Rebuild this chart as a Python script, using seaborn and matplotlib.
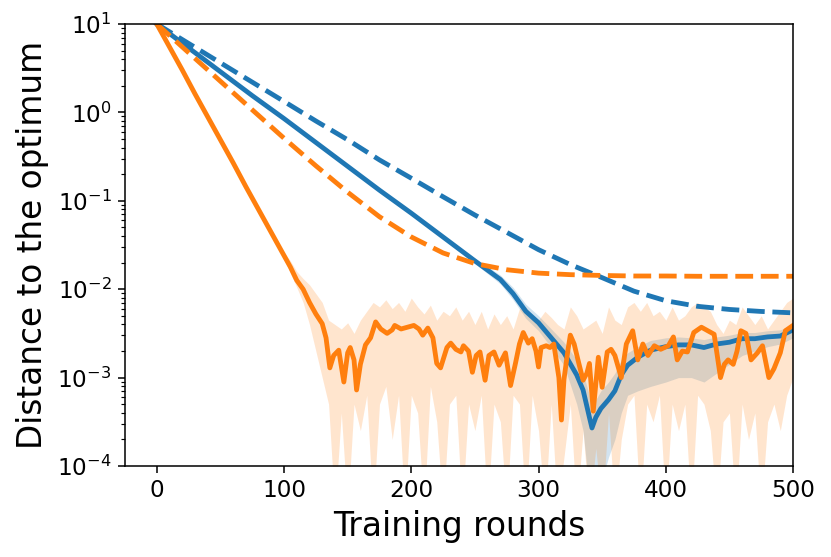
import numpy as np
import pandas as pd
import matplotlib
matplotlib.use("Agg")
import matplotlib.pyplot as plt
import seaborn as sns

# values; the solid curves and bands are stored as log10(distance)
dash_rounds = np.arange(0, 501, 25)
blue_dashed = [10, 6.03, 3.64, 2.20, 1.33, 0.80, 0.49, 0.29, 0.18, 0.111, 0.069,
               0.044, 0.028, 0.019, 0.0135, 0.0095, 0.0074, 0.0064, 0.0059, 0.0056, 0.0054]
orange_dashed = [10, 4.74, 2.25, 1.07, 0.51, 0.249, 0.125, 0.066, 0.039, 0.0257, 0.0195,
                 0.0166, 0.0152, 0.0146, 0.0143, 0.0141, 0.0141, 0.0140, 0.0140, 0.0140, 0.0140]

blue_rounds = [0, 25, 50, 75, 100, 125, 150, 175, 200, 225, 250, 270, 280, 290, 300, 310,
               320, 330, 335, 340, 342, 345, 349, 355, 360, 365, 370, 378, 388, 400, 410,
               420, 430, 440, 450, 460, 470, 480, 490, 500]
blue_log = [1.0, 0.73, 0.46, 0.19, -0.07, -0.34, -0.61, -0.88, -1.14, -1.41, -1.68, -1.89,
            -2.05, -2.25, -2.38, -2.55, -2.72, -2.97, -3.14, -3.45, -3.57, -3.45, -3.35,
            -3.25, -3.15, -2.97, -2.86, -2.77, -2.69, -2.65, -2.63, -2.63, -2.66, -2.62,
            -2.60, -2.56, -2.56, -2.54, -2.53, -2.46]
blue_lo = [0.99, 0.71, 0.44, 0.17, -0.09, -0.36, -0.63, -0.90, -1.16, -1.43, -1.71, -1.94,
           -2.12, -2.33, -2.47, -2.66, -2.86, -3.3, -3.6, -4.3, -4.5, -4.5, -4.2, -3.9, -3.7,
           -3.4, -3.2, -3.15, -3.1, -3.05, -3.0, -3.0, -3.05, -2.95, -2.85, -2.75, -2.7,
           -2.65, -2.62, -2.55]
blue_hi = [1.01, 0.75, 0.48, 0.21, -0.05, -0.32, -0.59, -0.86, -1.12, -1.39, -1.65, -1.84,
           -1.98, -2.17, -2.30, -2.45, -2.60, -2.80, -2.95, -3.2, -3.3, -3.25, -3.15, -3.05,
           -2.95, -2.8, -2.72, -2.65, -2.58, -2.55, -2.54, -2.55, -2.57, -2.54, -2.52,
           -2.49, -2.49, -2.47, -2.46, -2.40]

orange_rounds = [0, 10, 20, 30, 40, 50, 60, 70, 80, 90, 100, 105, 110, 115, 120, 125, 130,
                 133, 136, 139, 143, 147, 150, 152, 155, 157, 160, 164, 168, 172, 176, 181,
                 185, 187, 192, 197, 202, 206, 209, 213, 217, 220, 223, 228, 231, 235, 239,
                 241, 245, 248, 251, 254, 258, 261, 265, 269, 274, 278, 282, 285, 288, 292,
                 295, 298, 300, 302, 306, 309, 312, 316, 318, 320, 323, 325, 328, 331, 335,
                 338, 340, 343, 347, 350, 354, 357, 360, 365, 369, 374, 378, 382, 386, 391,
                 396, 402, 406, 409, 413, 417, 422, 428, 433, 438, 443, 446, 449, 453, 456,
                 459, 463, 467, 472, 476, 481, 485, 490, 494, 497, 500]
orange_log = [1.0, 0.74, 0.48, 0.21, -0.05, -0.31, -0.57, -0.84, -1.10, -1.36, -1.62, -1.75,
              -1.90, -2.0, -2.15, -2.28, -2.39, -2.55, -2.89, -2.75, -2.69, -3.05, -2.72,
              -2.66, -2.80, -3.14, -2.85, -2.63, -2.55, -2.37, -2.45, -2.50, -2.46, -2.41,
              -2.45, -2.43, -2.41, -2.45, -2.52, -2.44, -2.55, -2.84, -2.89, -2.66, -2.61,
              -2.68, -2.71, -2.64, -2.70, -2.94, -2.75, -2.71, -3.03, -2.75, -2.71, -2.86,
              -2.72, -3.09, -2.83, -2.62, -2.49, -2.61, -2.56, -2.70, -2.88, -2.66, -2.64,
              -2.66, -2.62, -3.0, -3.48, -3.02, -2.70, -2.52, -2.62, -2.80, -3.03, -2.95,
              -2.84, -3.38, -2.77, -3.11, -2.71, -2.68, -2.75, -3.0, -2.62, -2.47, -2.80,
              -2.62, -2.75, -2.64, -2.68, -2.64, -2.54, -2.80, -2.70, -2.71, -2.49, -2.43,
              -2.47, -2.51, -3.00, -2.85, -2.80, -2.85, -2.70, -2.47, -2.50, -2.80, -2.72,
              -2.64, -3.00, -2.90, -2.72, -2.47, -2.44, -2.41]

band_rounds = np.arange(100, 501, 5)
orange_hi = [-1.58, -1.68, -1.80, -1.88, -1.95, -2.05, -2.15, -2.35, -2.40, -2.45, -2.38,
             -2.50, -2.35, -2.25, -2.15, -2.20, -2.12, -2.22, -2.15, -2.25, -2.10, -2.20,
             -2.28, -2.18, -2.35, -2.25, -2.30, -2.20, -2.35, -2.25, -2.40, -2.25, -2.45,
             -2.28, -2.40, -2.30, -2.45, -2.22, -2.20, -2.30, -2.35, -2.25, -2.32, -2.40,
             -2.45, -2.20, -2.30, -2.45, -2.40, -2.35, -2.50, -2.20, -2.35, -2.40, -2.20,
             -2.15, -2.25, -2.15, -2.30, -2.25, -2.35, -2.20, -2.35, -2.30, -2.20, -2.15,
             -2.20, -2.25, -2.40, -2.50, -2.35, -2.40, -2.20, -2.30, -2.40, -2.30, -2.45,
             -2.35, -2.25, -2.15, -2.10]
orange_lo = [-1.66, -1.82, -1.98, -2.15, -2.40, -2.70, -3.00,
             -3.3, -4.5, -3.4, -4.5, -3.3, -3.6, -3.2, -4.5, -3.3, -3.1,
             -3.7, -3.2, -4.5, -3.2, -3.4, -4.5, -3.1, -3.5, -4.5, -3.3,
             -3.2, -4.5, -3.3, -3.6, -3.2, -4.5, -3.3, -3.5, -4.5, -3.2,
             -3.3, -4.5, -3.2, -3.6, -4.5, -3.3, -4.5, -3.9, -3.3, -4.5,
             -3.6, -4.5, -3.8, -4.5, -3.4, -4.5, -3.7, -3.3, -3.2, -4.5,
             -3.3, -3.5, -3.2, -4.5, -3.3, -3.6, -3.3, -4.5, -3.2, -3.3,
             -3.6, -4.5, -3.5, -3.4, -4.5, -3.3, -3.7, -3.4, -4.5, -3.5,
             -3.3, -3.6, -3.2, -3.0]

blue = "#1f77b4"
orange = "#ff7f0e"

fig, ax = plt.subplots(figsize=(831 / 138.5, 557 / 138.5), dpi=138.5)
fig.subplots_adjust(left=0.1504, right=0.9543, bottom=0.1634, top=0.9569)

ax.fill_between(blue_rounds, 10 ** np.array(blue_lo), 10 ** np.array(blue_hi),
                color=blue, alpha=0.2, linewidth=0)
sns.lineplot(x=blue_rounds, y=10 ** np.array(blue_log), color=blue, linewidth=2.5, ax=ax)

ax.fill_between(band_rounds, 10 ** np.array(orange_lo), 10 ** np.array(orange_hi),
                color=orange, alpha=0.2, linewidth=0)
sns.lineplot(x=orange_rounds, y=10 ** np.array(orange_log), color=orange, linewidth=2.5, ax=ax)

sns.lineplot(x=dash_rounds, y=blue_dashed, color=blue, linewidth=2.5, linestyle="--", ax=ax)
sns.lineplot(x=dash_rounds, y=orange_dashed, color=orange, linewidth=2.5, linestyle="--", ax=ax)

ax.set_yscale("log")
ax.set_ylim(1e-4, 10)
ax.set_xlim(-25, 500)
ax.set_xticks([0, 100, 200, 300, 400, 500])
ax.tick_params(labelsize=12)
ax.set_xlabel("Training rounds", fontsize=17)
ax.set_ylabel("Distance to the optimum", fontsize=17)

fig.savefig("out.png", dpi=138.5)
